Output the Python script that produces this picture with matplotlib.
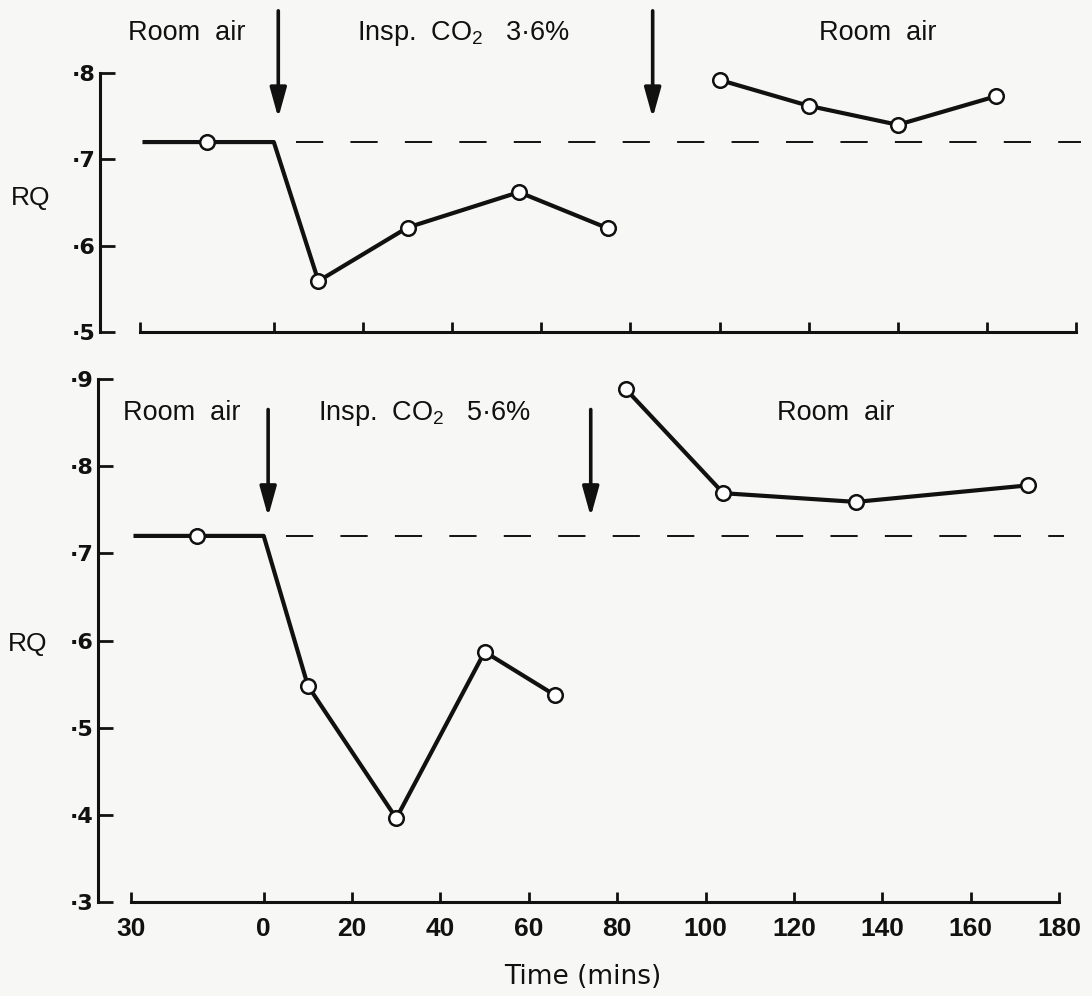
import matplotlib
matplotlib.use('Agg')
import matplotlib.pyplot as plt
from matplotlib.patches import ArrowStyle

plt.rcParams['mathtext.fontset'] = 'custom'
plt.rcParams['mathtext.rm'] = 'Liberation Sans'
plt.rcParams['mathtext.it'] = 'Liberation Sans:italic'
plt.rcParams['mathtext.bf'] = 'Liberation Sans:bold'

# ---------------- data ----------------
x_ticks = [-30, 0, 20, 40, 60, 80, 100, 120, 140, 160, 180]
x_tick_labels = ['30', '0', '20', '40', '60', '80', '100', '120', '140', '160', '180']

top_yticks = [0.5, 0.6, 0.7, 0.8]
top_ytick_labels = ['·5', '·6', '·7', '·8']
bot_yticks = [0.3, 0.4, 0.5, 0.6, 0.7, 0.8, 0.9]
bot_ytick_labels = ['·3', '·4', '·5', '·6', '·7', '·8', '·9']

# panel 1: inspired CO2 3.6%
top_co2_time = [-29, -15, 0, 10, 30, 55, 75]
top_co2_rq = [0.72, 0.72, 0.72, 0.559, 0.621, 0.662, 0.620]
top_co2_marks = [1, 3, 4, 5, 6]
top_air_time = [100, 120, 140, 162]
top_air_rq = [0.792, 0.762, 0.740, 0.773]

# panel 2: inspired CO2 5.6%
bot_co2_time = [-29, -15, 0, 10, 30, 50, 66]
bot_co2_rq = [0.72, 0.72, 0.72, 0.548, 0.396, 0.587, 0.537]
bot_co2_marks = [1, 3, 4, 5, 6]
bot_air_time = [82, 104, 134, 173]
bot_air_rq = [0.888, 0.769, 0.759, 0.778]

baseline_rq = 0.72
baseline_span = [5, 181]

top_arrow_times = [1, 85]
bot_arrow_times = [1, 74]

top_labels = ['Room  air', 'Insp.  CO$_\\mathrm{2}$   3·6%', 'Room  air']
top_label_times = [-19.5, 42.5, 135.5]
bot_labels = ['Room  air', 'Insp.  CO$_\\mathrm{2}$   5·6%', 'Room  air']
bot_label_times = [-18.5, 36.5, 129.5]

# ---------------- figure ----------------
INK = '#111111'
BG = '#f7f7f5'
fig = plt.figure(figsize=(10.92, 9.96), dpi=100, facecolor=BG)

ax1 = fig.add_axes([100 / 1092, 1 - 332 / 996, 985 / 1092, 259 / 996])
ax2 = fig.add_axes([98 / 1092, 1 - 902 / 996, 970 / 1092, 523 / 996])


def style(ax, ylim, yticks, ylabels, xlim, show_xlabels):
    ax.set_facecolor('none')
    ax.set_xlim(*xlim)
    ax.set_ylim(*ylim)
    for s in ['top', 'right']:
        ax.spines[s].set_visible(False)
    ax.spines['left'].set_bounds(ylim[0], ylim[1])
    ax.spines['bottom'].set_bounds(x_ticks[0], x_ticks[-1])
    for s in ['left', 'bottom']:
        ax.spines[s].set_linewidth(2.2)
        ax.spines[s].set_color(INK)
    ax.set_yticks(yticks)
    ax.set_yticklabels(ylabels, family='DejaVu Sans', fontweight='bold', fontsize=16)
    ax.set_xticks(x_ticks)
    if show_xlabels:
        ax.set_xticklabels(x_tick_labels, family='Liberation Sans', fontweight='bold', fontsize=19)
    else:
        ax.set_xticklabels([])
    ax.tick_params(axis='y', direction='in', length=11, width=2, pad=3, colors=INK)
    ax.tick_params(axis='x', direction='in', length=7, width=2, pad=11, colors=INK)


style(ax1, (0.5, 0.8), top_yticks, top_ytick_labels, (-39, 182), False)
style(ax2, (0.3, 0.9), bot_yticks, bot_ytick_labels, (-37.5, 182), True)


def draw(ax, co2_t, co2_v, marks, air_t, air_v, arrows, arrow_start, arrow_tip,
         labels, label_t, label_y):
    ax.plot(baseline_span, [baseline_rq] * 2, color=INK, lw=1.4, dashes=(14, 14),
            dash_capstyle='butt', clip_on=False)
    kw = dict(color=INK, lw=3.0, marker='o', ms=10.5, mfc='white', mec=INK, mew=1.8,
              clip_on=False, zorder=3)
    ax.plot(co2_t, co2_v, markevery=marks, **kw)
    ax.plot(air_t, air_v, **kw)
    for t in arrows:
        ax.annotate('', xy=(t, arrow_tip), xytext=(t, arrow_start),
                    arrowprops=dict(arrowstyle=ArrowStyle('-|>', head_length=1.8, head_width=0.5),
                                    lw=2.6, color=INK, shrinkA=0, shrinkB=0, mutation_scale=10),
                    annotation_clip=False)
    for s, t in zip(labels, label_t):
        ax.text(t, label_y, s, ha='center', va='baseline', fontsize=19.5,
                family='Liberation Sans', color=INK)


draw(ax1, top_co2_time, top_co2_rq, top_co2_marks, top_air_time, top_air_rq,
     top_arrow_times, 0.872, 0.748, top_labels, top_label_times, 0.838)
draw(ax2, bot_co2_time, bot_co2_rq, bot_co2_marks, bot_air_time, bot_air_rq,
     bot_arrow_times, 0.865, 0.742, bot_labels, bot_label_times, 0.853)

fig.text(31 / 1092, 1 - 198 / 996, 'RQ', ha='center', va='center', fontsize=19,
         family='Liberation Sans', color=INK)
fig.text(28 / 1092, 1 - 644 / 996, 'RQ', ha='center', va='center', fontsize=19,
         family='Liberation Sans', color=INK)
fig.text(583 / 1092, 1 - 984 / 996, 'Time (mins)', ha='center', va='baseline',
         fontsize=19, family='DejaVu Sans', color=INK)

fig.savefig('out.png', dpi=100, facecolor=BG)
